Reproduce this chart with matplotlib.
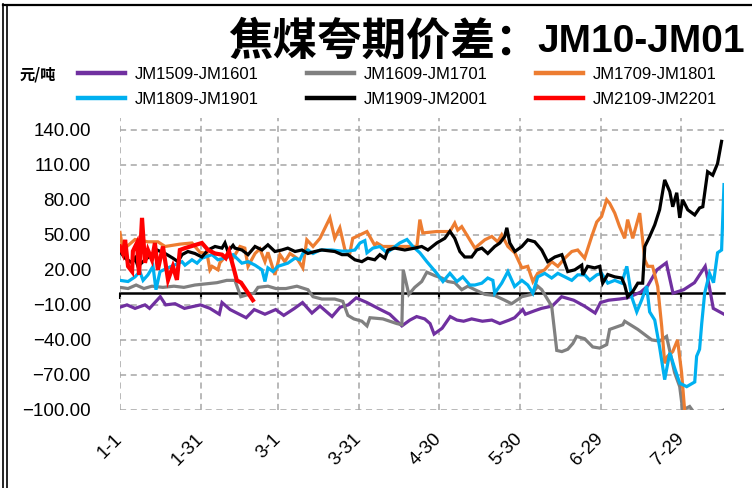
import matplotlib
matplotlib.use("Agg")
import matplotlib.pyplot as plt
from matplotlib import font_manager
from matplotlib.lines import Line2D

# day offsets from 1-1 (leap year), spreads in yuan/ton
p_days = [0, 2.6, 5.6, 9.3, 11, 15, 17, 20.5, 24, 30, 33.5, 37, 38, 41, 47, 50, 54, 58, 61, 65,
          68, 71.5, 74.5, 79, 82, 85, 88, 92, 97, 100.5, 105, 108, 110.5, 113.5, 115.5, 117, 120,
          123, 125.5, 128, 131, 135, 138.5, 141.5, 145, 147, 150, 151, 154.5, 157, 161, 164.5,
          169, 173, 177, 179, 182, 186, 189, 194, 196.5, 200, 203.5, 206, 210, 214, 218, 219.5,
          221, 225]
p_vals = [-12, -10, -13, -10, -13, -3, -10, -9, -13, -10, -13, -18, -8, -14, -21, -14, -18, -14,
          -19, -13, -8, -17, -11, -20, -12, -10, -4, -8, -14, -18, -28, -23, -20, -22, -26, -35,
          -30, -20, -23, -24, -22, -24, -23, -26, -23, -21, -14, -18, -15, -13, -11, -3, -6, -11,
          -17, -8, -6, -5, -4, 1, 6, 20, 26, 0, 3, 9, 23, 6, -13, -18]

g_days = [0, 3, 6, 8.9, 11.9, 16, 20.1, 23.8, 27.9, 32, 36.1, 39.8, 42.8, 45, 48, 49.9, 51.4,
          55.1, 58.1, 61.8, 65.9, 70, 71.9, 75.2, 80, 83, 84.9, 87.1, 90.1, 92, 93.1, 97.9, 103.1,
          105, 105.5, 107.6, 109.8, 112.4, 114.3, 117.3, 119.9, 122.1, 124.7, 127.3, 129.6, 132.2,
          135.9, 139.6, 143.3, 145.9, 149.7, 153.4, 155.6, 157.1, 160.8, 162.7, 164.6, 166.8,
          168.7, 170.1, 173.1, 176.1, 178.7, 181.3, 182.4, 187.3, 188, 192.9, 198.1, 201, 203.6,
          206.6, 208.5, 209.6, 212.2, 214.1, 218.2, 221.5, 225]
g_vals = [5, 4, 7, 4, 6, 5, 6, 5, 7, 8, 9, 11, 11, -3, -1, 0, 5, 6, 4, 4, 6, 3, -3, -5, -5, -7,
          -19, -22, -24, -28, -21, -22, -26, -27, 20, -1, 5, 10, 18, 15, 13, 10, 9, 3, 6, 3, -1,
          -2, -6, -9, -3, -1, 6, 3, -11, -49, -50, -48, -43, -37, -39, -46, -47, -44, -31, -27,
          -24, -31, -40, -41, -37, -68, -80, -100, -97, -103, -106, -104, -100]

o_days = [0, 1.1, 5.6, 10.4, 14.1, 16.8, 22.3, 26.8, 29.8, 32.4, 33.5, 34.3, 36.5, 37.2, 40.2,
          42.1, 44.7, 46.5, 47.7, 50.3, 52.1, 54, 55.1, 57.7, 59.6, 61.4, 63.3, 65.9, 68.1, 69.6,
          71.9, 74.5, 78.2, 80, 81.9, 83.8, 85.6, 86.7, 88.2, 92, 94.9, 95.7, 97.9, 104.2, 110.6,
          111.7, 112.8, 118, 122.9, 124.7, 125.8, 127.3, 130.3, 132.2, 135.9, 138.5, 140.7, 142.2,
          144.5, 147.1, 149.7, 151.9, 153.8, 155.6, 158.2, 160.8, 163.1, 165.7, 168.3, 170.5,
          173.1, 175.7, 177.6, 179.4, 181.3, 182.4, 184.3, 186.1, 188, 189.1, 191, 193.6, 195.5,
          196.6, 198.4, 200.3, 201.8, 202.9, 204, 205.9, 207.7, 209.2, 210.4, 212]
o_vals = [52, 37, 46, 44, 44, 40, 42, 43, 35, 34, 20, 23, 20, 26, 34, 30, 40, 38.6, 23, 34, 38,
          27, 35, 15.7, 33, 27, 34, 30, 21.7, 45.7, 40, 47, 64.5, 47, 56, 37, 34, 47, 48.6, 52.8,
          41, 43, 40, 40, 40, 63, 51.6, 52.8, 52.8, 60, 54, 57, 45.7, 38.6, 45.7, 48.6, 44, 50,
          40, 34.5, 21.7, 23, 10, 17, 20, 27, 23, 30, 35.7, 37, 30, 48.5, 61, 65.7, 80, 77, 68.6,
          57, 47, 63, 47, 68.6, 28.5, 23, 23, 5.7, -28.6, -60, -54, -50, -40, -68, -102, -112]

b_days = [0, 3, 5.6, 7.4, 8.6, 10.4, 12.3, 13.4, 14.9, 17.9, 23.1, 24.2, 26.8, 28.7, 30.5, 34.3,
          36.5, 40.2, 42.1, 45.4, 47.7, 50.3, 52.9, 54, 55.1, 57, 58.8, 62.5, 65.2, 67, 68.1, 70,
          71.9, 74.5, 78.9, 82.7, 84.9, 87.5, 89.4, 91.2, 92, 94.2, 96.8, 99.4, 104.2, 106.9,
          109.1, 111.7, 114.3, 118, 120.3, 122.9, 125.5, 127.7, 130.3, 132.2, 134.8, 137, 138.9,
          139.6, 142.2, 144.5, 147, 149.7, 151.9, 153.8, 155.6, 158.2, 160.8, 163.1, 165.7, 168.3,
          170.5, 173.1, 175, 177.6, 179.4, 181.7, 184.3, 186.9, 188.8, 190.6, 192.5, 194.3, 196.2,
          197.3, 199.2, 201, 202.9, 204.8, 206.6, 208.5, 211.1, 214.1, 214.8, 215.9, 216.7, 217.8,
          219.6, 221.1, 222.6, 224.1, 225]
b_vals = [11, 10, 14, 18.5, 11, 15.7, 23, 3, 18.5, 21.7, 27, 24, 28.6, 25.7, 30, 33, 28.6, 31,
          33, 25.7, 27, 24, 20, 10, 21.7, 18.5, 23, 25.7, 30, 28.6, 34, 37, 34, 37, 37, 36, 36,
          37, 43, 45, 34.6, 38.6, 40, 34.6, 43, 46, 40, 34.6, 27, 17, 10, 17, 10, 14, 7, 7, 8.6,
          13, 11, 0, 8.6, 18.5, 5.7, 11, 7, 0, 14, 17, 13, 17, 14, 11, 15.7, 15.7, 11, 15.7, 17,
          8.6, 11, 8.6, 23, -3, -16, -6, 6, -16, -23, -46, -74, -51, -64, -77, -80, -76, -54,
          -48, -26, 0, 17, 9, 34.6, 37, 93]

k_days = [0, 1.9, 4.5, 5.6, 6.7, 9.3, 11.9, 13.8, 16.8, 19.7, 21.6, 23.1, 25.3, 27.9, 30.5, 32.8,
          35.4, 38, 39.1, 40.2, 42.1, 42.8, 45.4, 47.7, 50.3, 52.9, 55.1, 57.7, 60.3, 62.5, 65.2,
          67.8, 70, 72.6, 75.2, 80, 82.7, 84.9, 87.5, 90.1, 92.3, 94.9, 96.8, 98.7, 99.8, 102.4,
          106.1, 109.8, 112.4, 114.7, 118, 121, 122.9, 124.7, 126.6, 128.4, 131, 132.9, 134.8,
          137, 139.6, 141.5, 143.3, 144.1, 145.2, 147.1, 149.7, 151.9, 154.5, 157.1, 159.3, 162,
          164.6, 166.8, 169.4, 172, 172.4, 174.2, 176.8, 178.7, 179.8, 181.7, 184.3, 186.9, 188,
          189.1, 191, 192.9, 194.7, 195.5, 197.3, 199.2, 201, 202.9, 204.8, 205.9, 207.4, 208.5,
          209.6, 211.5, 214.1, 215.9, 217.1, 218.9, 220.8, 222.6, 224.1]
k_vals = [35.7, 30, 26, 30, 23, 28.6, 33, 37, 34, 30, 27, 33, 35.7, 34, 31, 37, 40, 38.6, 43,
          35.7, 41, 38.6, 37, 33, 40, 37, 41.4, 35.7, 37, 38.6, 35.7, 37, 34, 35.7, 37, 35.7, 33,
          33, 28.6, 27, 30, 28.6, 33, 30, 37, 38.6, 37, 38.6, 40, 37, 43, 47, 53, 47, 35.7, 31,
          31, 37, 38.6, 34, 40, 43, 48.5, 56, 43, 35.7, 40, 45.7, 44, 37, 27, 31, 33, 18.5, 20,
          24, 15.7, 23, 21.7, 23, 8.6, 16, 14, 13, 7, -3, 1.4, 8.6, 8.6, 40, 48.5, 58.5, 71.4,
          97, 87, 74, 86, 64.5, 80, 71.4, 67, 73, 74, 104, 101, 111, 130]

r_days = [0, 1.1, 1.9, 3, 4.5, 4.8, 6.3, 7.1, 8.2, 9.3, 10.4, 11.9, 13, 14.1, 16, 17.9, 19.7,
          21.2, 22.3, 24.2, 30.5, 32.8, 35.4, 38, 39.4, 40.6, 42.5, 43.5, 45.1, 49.5]
r_vals = [40, 34, 45.7, 23, 18.5, 36, 43, 15.7, 64.5, 26, 37, 28.6, 43, 20, 40, 11.4, 23, 11.4,
          37, 38.6, 43, 37, 34, 33, 30, 36, 20, 11, 9, -6]

series_names = ["JM1509-JM1601", "JM1609-JM1701", "JM1709-JM1801",
                "JM1809-JM1901", "JM1909-JM2001", "JM2109-JM2201"]
series_colors = ["#7030A0", "#808080", "#ED7D31", "#00B0F0", "#000000", "#FF0000"]

tick_days = [0, 30, 59, 89, 119, 149, 179, 209]
tick_labels = ["1-1", "1-31", "3-1", "3-31", "4-30", "5-30", "6-29", "7-29"]
y_ticks = [-100, -70, -40, -10, 20, 50, 80, 110, 140]

installed = {f.name for f in font_manager.fontManager.ttflist}
narrow = "Liberation Sans Narrow" if "Liberation Sans Narrow" in installed else "Liberation Sans"
plt.rcParams["font.family"] = ["Liberation Sans", "Noto Sans CJK SC", "DejaVu Sans"]

W, H = 752, 488
fig = plt.figure(figsize=(W / 100, H / 100), dpi=100)
ax = fig.add_axes([120 / W, 1 - 410 / H, 604 / W, 292 / H])

data = [(p_days, p_vals), (g_days, g_vals), (o_days, o_vals),
        (b_days, b_vals), (k_days, k_vals), (r_days, r_vals)]
lines = []
for (d, v), name, c in zip(data, series_names, series_colors):
    lw = 3.0 if c == "#FF0000" else 2.3
    ln, = ax.plot(d, v, color=c, lw=lw, label=name, solid_joinstyle="miter", zorder=3)
    lines.append(ln)

ax.set_xlim(0, 225)
ax.set_ylim(-100, 150)
ax.set_xticks(tick_days)
ax.set_xticklabels(tick_labels, rotation=45, ha="right", va="center",
                   rotation_mode="anchor", fontsize=13.5)
ax.set_yticks(y_ticks)
ax.set_yticklabels([f"{v:.2f}".replace("-", "\u2212") for v in y_ticks], fontsize=13.5)
ax.tick_params(axis="x", length=0, pad=19)
ax.tick_params(axis="y", length=0, pad=21)
for s in ax.spines.values():
    s.set_visible(False)
ax.grid(True, color="#a6a6a6", linestyle=(0, (4, 3)), linewidth=1.1, zorder=0)
ax.set_axisbelow(True)

# horizontal axis crossing at zero
zero = ax.secondary_xaxis(100 / 250)
zero.set_xticks(tick_days)
zero.tick_params(direction="out", length=4.5, width=1.5, labelbottom=False)
zero.spines["bottom"].set_linewidth(1.8)

order = [0, 3, 1, 4, 2, 5]
leg = fig.legend([lines[i] for i in order], [series_names[i] for i in order],
                 ncol=3, loc="center left", bbox_to_anchor=(78 / W, 1 - 87 / H),
                 frameon=False, handlelength=2.8, handletextpad=0.6,
                 columnspacing=2.9, labelspacing=0.62, borderpad=0, borderaxespad=0,
                 prop={"family": [narrow], "size": 12})
for t in leg.get_lines():
    t.set_linewidth(3.2)

fig.text(20 / W, 1 - 74 / H, "元/吨", fontsize=11, fontweight="bold", va="center",
         family=["Noto Sans CJK SC"])

# title: latin part on the right, chinese part placed against its left edge
t_lat = fig.text(745 / W, 1 - 42 / H, "JM10-JM01", fontsize=28, fontweight="bold",
                 ha="right", va="center", family=[narrow])
fig.canvas.draw()
x0 = t_lat.get_window_extent().x0
fig.text((x0 + 2) / W, 1 - 42 / H, "焦煤夸期价差：", fontsize=32, fontweight="bold",
         ha="right", va="center", family=["Noto Sans CJK SC"])

# chart frame
fig.add_artist(Line2D([3 / W, 3 / W], [0, 1 - 4 / H], color="black", lw=1.2))
fig.add_artist(Line2D([7 / W, 7 / W], [0, 1 - 6 / H], color="black", lw=1.2))
fig.add_artist(Line2D([3 / W, 1], [1 - 5 / H, 1 - 5 / H], color="black", lw=1.6))

fig.savefig("out.png", dpi=100)
